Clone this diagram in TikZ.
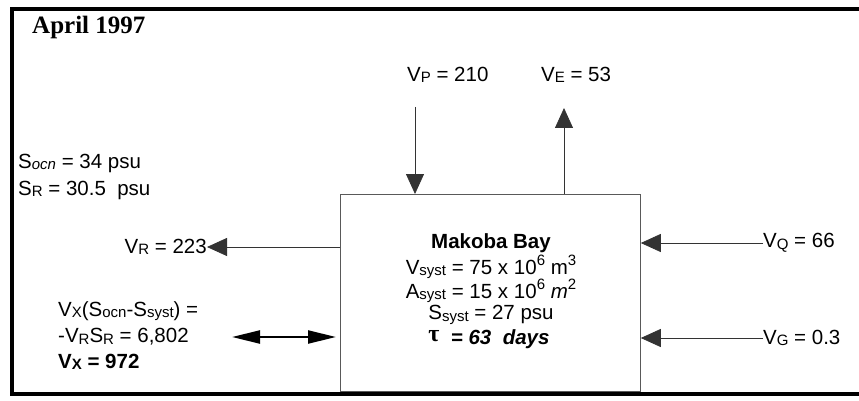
\documentclass[tikz,border=0pt]{standalone}
\usepackage{fontspec}
\setmainfont{Liberation Sans}
\newfontfamily\serifb{Liberation Serif}
\usetikzlibrary{arrows.meta}
\newcommand\sbs[1]{\raisebox{-0.15ex}{\fontsize{15}{15}\selectfont #1}}
\newcommand\sps[1]{\raisebox{0.8ex}{\fontsize{15}{15}\selectfont #1}}
\tikzset{
  lbl/.style={inner sep=0pt, font=\fontsize{20.5}{24}\selectfont},
  flow/.style={draw=black!80, line width=0.8pt, -{Triangle[length=20pt,width=18pt]}},
  dbl/.style={draw=black, line width=2.2pt, {Triangle[length=28pt,width=13pt]}-{Triangle[length=28pt,width=13pt]}},
  bar/.style={fill=black}
}
\begin{document}
\begin{tikzpicture}[x=1pt,y=-1pt]
\useasboundingbox (0,0) rectangle (859,401);
\fill[white] (0,0) rectangle (859,401);
% frame
\fill[bar] (10,7) rectangle (859,11);
\fill[bar] (10,7) rectangle (14,396);
\fill[bar] (10,392) rectangle (859,396);
% title
\node[anchor=west, inner sep=0pt, font=\serifb\bfseries\fontsize{25}{28}\selectfont] (title) at (32,27) {April 1997};
% bay box
\node[draw=black!65, line width=0.8pt, minimum width=300pt, minimum height=197pt, anchor=north west, inner sep=0pt] (bay) at (340,194) {};
\node[lbl, font=\bfseries\fontsize{20.5}{24}\selectfont] (name) at (491,243) {Makoba Bay};
\node[lbl] (vsys) at (491,267) {V\sbs{syst} = 75 x 10\sps{6} m\sps{3}};
\node[lbl] (asys) at (491,291) {A\sbs{syst} = 15 x 10\sps{6} \textit{m}\sps{2}};
\node[lbl] (ssys) at (491,315) {S\sbs{syst} = 27 psu};
\node[lbl] (tau) at (489,339) {{\serifb\bfseries\fontsize{24}{24}\selectfont τ}\raisebox{-0.3ex}{\bfseries\itshape\ \ = 63\ \ days}};
% precipitation and evaporation
\node[lbl, anchor=west] (vp) at (407,75) {V\sbs{P} = 210};
\node[lbl, anchor=west] (ve) at (541,75) {V\sbs{E} = 53};
\coordinate (vpS) at (415,107);
\coordinate (veT) at (564,108);
\draw[flow] (vpS) -- (vpS |- bay.north);
\draw[flow] (veT |- bay.north) -- (veT);
% salinities
\node[lbl, anchor=west] (socn) at (18,163) {S\sbs{\itshape ocn} = 34 psu};
\node[lbl, anchor=west] (sr) at (18,190) {S\sbs{R} = 30.5\ \ psu};
% residual
\node[lbl, anchor=east] (vr) at (207,247) {V\sbs{R} = 223};
\draw[flow] (bay.west |- vr.east) -- (vr.east);
% exchange
\node[lbl, anchor=west] (vx1) at (58,311) {V\sbs{X}(S\sbs{ocn}-S\sbs{syst}) =};
\node[lbl, anchor=west] (vx2) at (58,337) {-V\sbs{R}S\sbs{R} = 6,802};
\node[lbl, anchor=west, font=\bfseries\fontsize{20.5}{24}\selectfont] (vx3) at (58,362) {V\sbs{X} = 972};
\coordinate (xa) at (232,337);
\coordinate (xb) at (336,337);
\draw[dbl] (xa) -- (xb);
% runoff and groundwater
\node[lbl, anchor=west] (vq) at (763,243) {V\sbs{Q} = 66};
\node[lbl, anchor=west] (vg) at (763,338) {V\sbs{G} = 0.3};
\draw[flow] (vq.west) -- (bay.east |- vq.west);
\draw[flow] (vg.west) -- (bay.east |- vg.west);
\end{tikzpicture}
\end{document}
